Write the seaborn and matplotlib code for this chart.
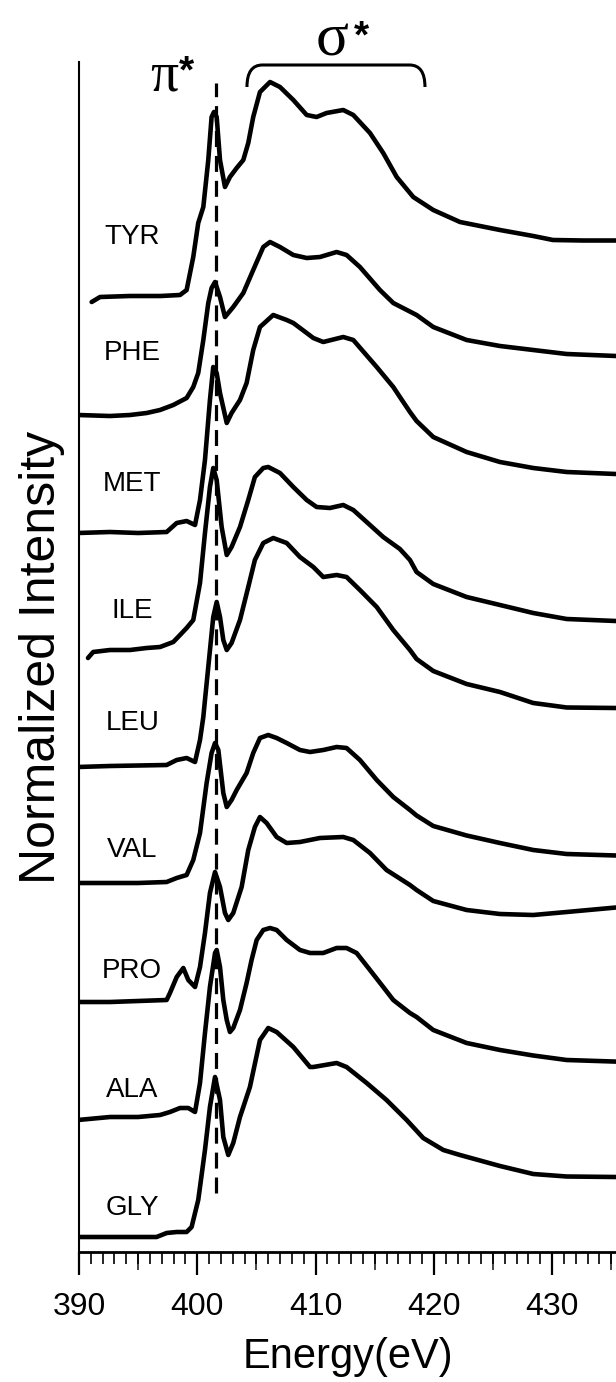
import matplotlib
matplotlib.use("Agg")
import matplotlib.pyplot as plt
from matplotlib.path import Path
from matplotlib.patches import PathPatch
import numpy as np
import pandas as pd
import seaborn as sns

# N 1s NEXAFS spectra of amino acids (energies in eV, intensities in arbitrary units)
residues = ["TYR", "PHE", "MET", "ILE", "LEU", "VAL", "PRO", "ALA", "GLY"]
offsets = [9.54, 8.36, 7.19, 6.00, 4.85, 3.68, 2.50, 1.33, 0.15]
label_y = [10.15, 8.99, 7.68, 6.41, 5.29, 4.02, 2.81, 1.62, 0.44]

tyr_ev = [391.07, 391.78, 394.3, 396.9, 398.54, 399.1, 399.66, 400.08, 400.51, 400.93,
          401.21, 401.41, 401.64, 401.92, 402.34, 402.76, 403.33, 403.89, 404.31, 404.73,
          405.3, 406.15, 406.99, 408.12, 409.25, 410.09, 410.93, 412.34, 413.19, 414.6,
          415.72, 416.86, 418.26, 419.95, 422.21, 425.59, 428.4, 430.07, 432.6, 435.4]
tyr_i = [-0.04, 0.01, 0.02, 0.02, 0.03, 0.08, 0.41, 0.75, 0.91, 1.38,
         1.81, 1.86, 1.81, 1.38, 1.11, 1.21, 1.30, 1.38, 1.55, 1.81,
         2.06, 2.16, 2.11, 1.98, 1.83, 1.81, 1.85, 1.88, 1.83, 1.65,
         1.45, 1.21, 1.01, 0.88, 0.76, 0.68, 0.62, 0.58, 0.575, 0.575]

phe_ev = [389.9, 392.62, 394.31, 395.72, 396.85, 397.97, 399.1, 399.66, 400.08, 400.51,
          400.93, 401.21, 401.5, 401.92, 402.34, 403.04, 403.89, 404.73, 405.58, 406.15,
          406.99, 408.12, 409.25, 410.37, 411.78, 412.62, 413.75, 415.44, 416.57, 418.54,
          419.95, 422.77, 425.59, 428.4, 431.23, 435.4]
phe_i = [0.01, 0.0, 0.01, 0.03, 0.06, 0.11, 0.18, 0.29, 0.43, 0.76,
         1.13, 1.28, 1.34, 1.19, 0.99, 1.09, 1.23, 1.46, 1.69, 1.74,
         1.69, 1.61, 1.58, 1.59, 1.64, 1.61, 1.49, 1.26, 1.13, 1.01,
         0.89, 0.76, 0.70, 0.66, 0.62, 0.60]

met_ev = [389.9, 392.62, 395.0, 397.41, 398.26, 399.1, 399.81, 400.23, 400.65, 401.07,
          401.35, 401.64, 401.92, 402.49, 402.9, 403.61, 404.17, 404.73, 405.3, 406.42,
          407.56, 408.12, 409.25, 409.81, 410.65, 412.34, 413.19, 415.17, 416.57, 417.13,
          417.98, 418.54, 419.95, 422.77, 425.59, 428.4, 431.23, 435.4]
met_i = [0.0, 0.01, 0.0, 0.01, 0.10, 0.12, 0.08, 0.33, 0.73, 1.33,
         1.66, 1.60, 1.40, 1.10, 1.20, 1.33, 1.50, 1.83, 2.06, 2.18,
         2.13, 2.10, 2.00, 1.95, 1.91, 1.96, 1.93, 1.66, 1.46, 1.36,
         1.21, 1.12, 0.96, 0.81, 0.71, 0.65, 0.61, 0.59]

ile_ev = [390.76, 391.2, 392.62, 394.31, 395.72, 396.85, 397.97, 398.54, 399.1, 399.66,
          400.23, 400.65, 401.07, 401.35, 401.64, 402.06, 402.49, 402.9, 403.61, 404.31,
          404.87, 405.58, 406.0, 406.99, 408.12, 409.25, 410.09, 411.21, 412.34, 413.19,
          414.6, 415.72, 417.13, 417.98, 418.54, 419.95, 422.77, 425.59, 428.4, 431.23, 435.4]
ile_i = [-0.06, 0.0, 0.02, 0.02, 0.04, 0.05, 0.10, 0.17, 0.24, 0.32,
         0.69, 1.19, 1.65, 1.84, 1.72, 1.25, 0.97, 1.05, 1.25, 1.52,
         1.75, 1.84, 1.85, 1.79, 1.65, 1.52, 1.45, 1.44, 1.47, 1.42,
         1.27, 1.15, 1.03, 0.92, 0.80, 0.68, 0.55, 0.47, 0.39, 0.33, 0.31]

leu_ev = [389.9, 392.62, 397.41, 398.26, 399.1, 399.81, 400.23, 400.51, 400.65, 400.93,
          401.35, 401.64, 401.92, 402.2, 402.49, 402.9, 403.61, 404.31, 404.87, 405.58,
          406.42, 407.56, 408.68, 409.81, 410.65, 411.78, 412.62, 413.75, 415.17, 416.57,
          417.98, 418.54, 419.95, 422.77, 425.59, 428.4, 431.23, 435.4]
leu_i = [0.0, 0.01, 0.02, 0.07, 0.09, 0.05, 0.27, 0.50, 0.67, 1.00,
         1.50, 1.65, 1.50, 1.27, 1.17, 1.24, 1.47, 1.80, 2.07, 2.24,
         2.29, 2.24, 2.10, 2.00, 1.90, 1.92, 1.90, 1.77, 1.60, 1.37,
         1.17, 1.08, 0.96, 0.83, 0.75, 0.64, 0.595, 0.59]

val_ev = [389.9, 392.62, 395.0, 397.41, 398.26, 399.1, 399.66, 400.23, 400.79, 401.21,
          401.5, 401.78, 402.2, 402.49, 402.9, 403.33, 404.17, 404.73, 405.3, 406.0,
          406.71, 407.56, 408.68, 409.53, 410.65, 411.78, 412.62, 413.75, 415.17, 416.57,
          417.98, 418.54, 419.95, 422.77, 425.59, 428.4, 431.23, 435.4]
val_i = [0.01, 0.01, 0.01, 0.02, 0.06, 0.09, 0.24, 0.51, 1.01, 1.31,
         1.41, 1.34, 0.91, 0.77, 0.84, 0.94, 1.11, 1.31, 1.46, 1.49,
         1.46, 1.41, 1.34, 1.32, 1.34, 1.37, 1.36, 1.24, 1.04, 0.87,
         0.74, 0.685, 0.58, 0.485, 0.41, 0.34, 0.30, 0.285]

pro_ev = [389.9, 392.62, 395.0, 397.41, 397.69, 398.26, 398.82, 399.24, 399.81, 400.23,
          400.65, 401.07, 401.5, 401.92, 402.34, 402.62, 403.04, 403.75, 404.31, 404.87,
          405.3, 405.86, 406.71, 407.56, 408.68, 410.37, 412.34, 413.19, 414.6, 416.0,
          417.98, 418.54, 419.95, 422.77, 425.59, 428.4, 431.23, 435.4]
pro_i = [0.0, 0.0, 0.01, 0.02, 0.09, 0.25, 0.34, 0.22, 0.15, 0.35,
         0.69, 1.09, 1.30, 1.15, 0.89, 0.82, 0.89, 1.15, 1.52, 1.75,
         1.85, 1.79, 1.65, 1.59, 1.60, 1.64, 1.65, 1.62, 1.49, 1.32,
         1.17, 1.12, 1.01, 0.92, 0.88, 0.87, 0.90, 0.945]

ala_ev = [389.9, 392.62, 395.0, 396.85, 397.69, 398.54, 399.24, 399.81, 400.23, 400.65,
          401.07, 401.5, 401.64, 401.92, 402.2, 402.49, 402.76, 403.04, 403.61, 404.17,
          404.59, 405.02, 405.58, 406.15, 406.71, 407.56, 408.68, 409.53, 410.65, 411.78,
          412.62, 413.47, 414.6, 415.72, 416.57, 417.98, 418.54, 419.95, 422.77, 425.59,
          428.4, 431.23, 435.4]
ala_i = [-0.01, 0.02, 0.02, 0.04, 0.07, 0.11, 0.11, 0.07, 0.36, 0.86,
         1.32, 1.66, 1.69, 1.52, 1.19, 0.99, 0.87, 0.91, 1.09, 1.36,
         1.59, 1.79, 1.89, 1.91, 1.89, 1.79, 1.69, 1.66, 1.66, 1.71,
         1.71, 1.66, 1.49, 1.32, 1.19, 1.06, 1.02, 0.89, 0.76, 0.69,
         0.635, 0.59, 0.574]

gly_ev = [390.0, 394.0, 396.56, 397.41, 398.26, 399.1, 399.52, 399.81, 400.08, 400.23,
          400.65, 401.07, 401.5, 401.92, 402.2, 402.62, 403.04, 403.61, 404.45, 405.3,
          406.0, 406.71, 408.12, 409.53, 409.81, 411.78, 412.62, 414.32, 416.0, 417.7,
          419.1, 420.8, 422.21, 425.59, 428.4, 431.23, 435.4]
gly_i = [0.0, 0.0, 0.0, 0.04, 0.05, 0.05, 0.10, 0.24, 0.37, 0.50,
         0.87, 1.30, 1.60, 1.37, 1.00, 0.82, 0.94, 1.20, 1.50, 1.97,
         2.09, 2.05, 1.90, 1.70, 1.70, 1.74, 1.70, 1.54, 1.37, 1.17,
         0.99, 0.87, 0.82, 0.71, 0.63, 0.605, 0.60]

energies = [tyr_ev, phe_ev, met_ev, ile_ev, leu_ev, val_ev, pro_ev, ala_ev, gly_ev]
intensities = [tyr_i, phe_i, met_i, ile_i, leu_i, val_i, pro_i, ala_i, gly_i]

pi_star_ev = 401.55          # position of the pi* resonance marker
sigma_band = (404.2, 419.25)  # energy range spanned by the sigma* bracket

x_min, x_max = 390.0, 435.4
y_min, y_max = 0.0, 11.90

sns.set_theme(style="white")
plt.rcParams["font.family"] = ["Liberation Sans", "DejaVu Sans"]

frames = []
for name, ev, inten, off in zip(residues, energies, intensities, offsets):
    frames.append(pd.DataFrame({"residue": name,
                                "energy": ev,
                                "signal": np.asarray(inten) + off}))
spectra = pd.concat(frames, ignore_index=True)

fig = plt.figure(figsize=(6.16, 13.82), dpi=100)
ax = fig.add_axes([79 / 616, 1 - 1252 / 1382, 1 - 79 / 616, (1252 - 62) / 1382])

sns.lineplot(data=spectra, x="energy", y="signal", units="residue", estimator=None,
             sort=False, color="black", linewidth=3.3, ax=ax, legend=False,
             solid_joinstyle="round", solid_capstyle="round")

# residue names above each baseline
for name, ly in zip(residues, label_y):
    ax.text(394.5, ly, name, ha="center", va="center", fontsize=20, color="black")

# pi* marker
ax.vlines(pi_star_ev, 0.59, 11.69, colors="black", linewidth=2.3,
          linestyles=(0, (5.0, 2.8)))
ax.text(396.0, 11.62, "π", fontsize=40, ha="left", va="baseline",
        family="Liberation Serif", color="black", clip_on=False)
ax.text(398.45, 11.70, "*", fontsize=28, ha="left", va="baseline", fontweight="bold",
        family="Liberation Sans", color="black", clip_on=False)

# sigma* bracket
x0, x1 = sigma_band
top, foot, bend = 11.87, 11.65, 1.3
verts = [(x0, foot), (x0, top), (x0 + bend, top), (x1 - bend, top), (x1, top), (x1, foot)]
codes = [Path.MOVETO, Path.CURVE3, Path.CURVE3, Path.LINETO, Path.CURVE3, Path.CURVE3]
ax.add_patch(PathPatch(Path(verts, codes), facecolor="none", edgecolor="black",
                       linewidth=2.2, clip_on=False))
ax.text(410.0, 11.97, "σ", fontsize=44, ha="left", va="baseline",
        family="Liberation Serif", color="black", clip_on=False)
ax.text(413.25, 12.05, "*", fontsize=28, ha="left", va="baseline", fontweight="bold",
        family="Liberation Sans", color="black", clip_on=False)

ax.set_xlim(x_min, x_max)
ax.set_ylim(y_min, y_max)
ax.set_yticks([])
ax.set_xticks(np.arange(390, 431, 10))
ax.set_xticks(np.arange(390, 436, 1), minor=True)
ax.tick_params(axis="x", which="major", direction="out", length=16.5, width=1.6,
               labelsize=23, pad=12, bottom=True, colors="black")
ax.tick_params(axis="x", which="minor", direction="out", length=8.5, width=1.2,
               bottom=True, colors="black")

mid = ax.secondary_xaxis("bottom")
mid.set_xticks(np.arange(395, 436, 10))
mid.tick_params(axis="x", direction="out", length=13, width=1.2, labelbottom=False)
mid.spines["bottom"].set_visible(False)

for side in ("top", "right"):
    ax.spines[side].set_visible(False)
ax.spines["left"].set_linewidth(1.5)
ax.spines["bottom"].set_linewidth(2.0)
ax.spines["left"].set_color("black")
ax.spines["bottom"].set_color("black")

ax.set_xlabel("Energy(eV)", fontsize=30, labelpad=11, color="black")
ax.set_ylabel("Normalized Intensity", fontsize=36, labelpad=10, color="black")

fig.savefig("out.png", dpi=100, facecolor="white")
